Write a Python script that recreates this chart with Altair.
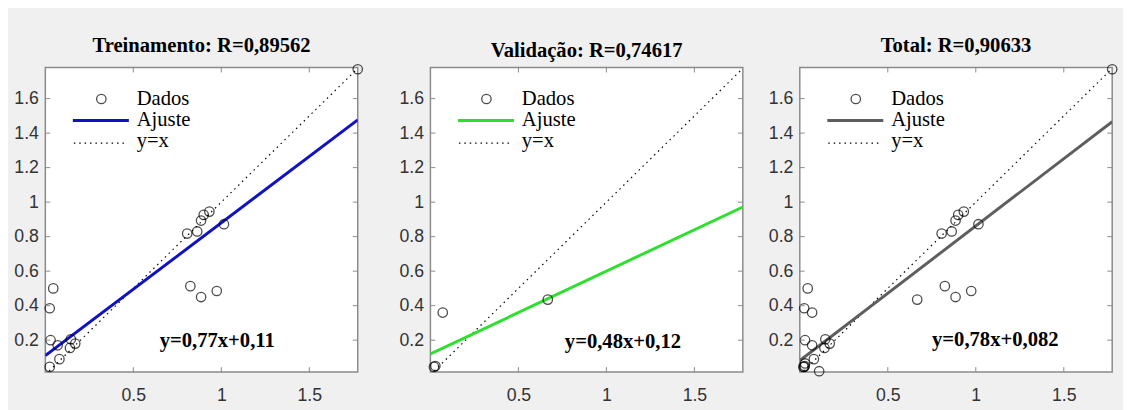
import altair as alt
import pandas as pd

# ---------------- data ----------------
train_x = [1.775, 0.025, 0.08, 0.03, 0.07, 0.14, 0.145, 0.17, 0.025, 0.045,
           0.806, 0.863, 0.885, 0.90, 0.932, 1.015, 0.824, 0.885, 0.974]
train_y = [1.77, 0.045, 0.09, 0.20, 0.17, 0.155, 0.205, 0.18, 0.385, 0.50,
           0.818, 0.83, 0.893, 0.926, 0.945, 0.872, 0.513, 0.45, 0.485]

val_x = [0.02, 0.028, 0.07, 0.667]
val_y = [0.045, 0.05, 0.36, 0.435]

test_x = [0.11, 0.03]
test_y = [0.02, 0.065]

total_x = train_x + val_x + test_x
total_y = train_y + val_y + test_y

# fit lines (end points) and identity line
line_x = [0.0, 1.775]
fit_train_y = [0.11, 1.477]
fit_val_y = [0.12, 0.972]
fit_total_y = [0.082, 1.466]
identity_y = [0.0, 1.775]

titles = ["Treinamento: R=0,89562", "Validação: R=0,74617", "Total: R=0,90633"]
equations = ["y=0,77x+0,11", "y=0,48x+0,12", "y=0,78x+0,082"]
legend_labels = ["Dados", "Ajuste", "y=x"]
fit_colors = ["#1010c4", "#2ee02e", "#5e5e5e"]

x_ticks = [0.5, 1.0, 1.5]
y_ticks = [0.2, 0.4, 0.6, 0.8, 1.0, 1.2, 1.4, 1.6]

X_DOMAIN = [0.0, 1.775]
Y_DOMAIN = [0.015, 1.78]
W, H = 318, 310

SERIF = "Liberation Serif"
SANS = "Liberation Sans"
FRAME = "#8a8a8a"


def panel(title, px, py, fit_y, color, eq, eq_pos):
    xs = alt.Scale(domain=X_DOMAIN, nice=False, zero=False)
    ys = alt.Scale(domain=Y_DOMAIN, nice=False, zero=False)
    xaxis = alt.Axis(values=x_ticks, format=".2~f", title=None, grid=False,
                     ticks=False, domain=False, labelPadding=15,
                     labelFontSize=18, labelFont=SANS, labelColor="#333333")
    yaxis = alt.Axis(values=y_ticks, format=".2~f", title=None, grid=False,
                     ticks=False, domain=False, labelPadding=7,
                     labelFontSize=18, labelFont=SANS, labelColor="#333333",
                     minExtent=34, maxExtent=34)

    def X(f):
        return alt.X(f, type="quantitative", scale=xs, axis=xaxis)

    def Y(f):
        return alt.Y(f, type="quantitative", scale=ys, axis=yaxis)

    pts = pd.DataFrame({"x": px, "y": py})
    ident = pd.DataFrame({"x": line_x, "y": identity_y})
    fit = pd.DataFrame({"x": line_x, "y": fit_y})

    identity_layer = alt.Chart(ident).mark_line(
        color="black", strokeWidth=1.2, strokeDash=[1.5, 4], clip=True
    ).encode(x=X("x"), y=Y("y"))
    fit_layer = alt.Chart(fit).mark_line(
        color=color, strokeWidth=3, clip=True
    ).encode(x=X("x"), y=Y("y"))
    pts_layer = alt.Chart(pts).mark_point(
        shape="circle", filled=False, size=92, stroke="black", strokeWidth=1.3
    ).encode(x=X("x"), y=Y("y"))

    # inward ticks on all four sides
    yt = pd.DataFrame({"v": y_ticks})
    xt = pd.DataFrame({"v": x_ticks})
    tick_l = alt.Chart(yt).mark_rule(color=FRAME, strokeWidth=1).encode(
        y=Y("v"), x=alt.value(0), x2=alt.value(5))
    tick_r = alt.Chart(yt).mark_rule(color=FRAME, strokeWidth=1).encode(
        y=Y("v"), x=alt.value(W), x2=alt.value(W - 5))
    tick_b = alt.Chart(xt).mark_rule(color=FRAME, strokeWidth=1).encode(
        x=X("v"), y=alt.value(H), y2=alt.value(H - 5))
    tick_t = alt.Chart(xt).mark_rule(color=FRAME, strokeWidth=1).encode(
        x=X("v"), y=alt.value(0), y2=alt.value(5))

    one = pd.DataFrame({"a": [0]})
    leg_pt = alt.Chart(one).mark_point(
        shape="circle", filled=False, size=92, stroke="black", strokeWidth=1.3
    ).encode(x=alt.value(57), y=alt.value(32))
    leg_fit = alt.Chart(one).mark_rule(color=color, strokeWidth=3).encode(
        x=alt.value(28), x2=alt.value(85), y=alt.value(54))
    leg_id = alt.Chart(one).mark_rule(color="black", strokeWidth=1.2,
                                      strokeDash=[1.5, 4]).encode(
        x=alt.value(29), x2=alt.value(83), y=alt.value(77))
    leg_txt = []
    for lab, yy in zip(legend_labels, [32, 54, 75]):
        leg_txt.append(alt.Chart(one).mark_text(
            align="left", baseline="middle", font=SERIF, fontSize=21,
            color="black").encode(x=alt.value(93), y=alt.value(yy),
                                  text=alt.value(lab)))

    eq_layer = alt.Chart(one).mark_text(
        align="center", baseline="middle", font=SERIF, fontSize=21,
        fontWeight="bold", color="black"
    ).encode(x=alt.value(eq_pos[0]), y=alt.value(eq_pos[1]), text=alt.value(eq))

    return alt.layer(
        identity_layer, fit_layer, pts_layer,
        tick_l, tick_r, tick_b, tick_t,
        leg_pt, leg_fit, leg_id, *leg_txt, eq_layer
    ).properties(
        width=W, height=H,
        title=alt.TitleParams(title, font=SERIF, fontSize=21, fontWeight="bold",
                              color="black", offset=6, anchor="middle"),
    )


p1 = panel(titles[0], train_x, train_y, fit_train_y, fit_colors[0], equations[0], (175, 278))
p2 = panel(titles[1], val_x, val_y, fit_val_y, fit_colors[1], equations[1], (196, 279))
p3 = panel(titles[2], total_x, total_y, fit_total_y, fit_colors[2], equations[2], (199, 277))

chart = alt.hconcat(
    alt.hconcat(p1, p2, spacing=30), p3, spacing=21
).properties(
    background="#f0f0f0",
    padding={"left": 3, "top": 23, "right": 2, "bottom": 2},
).configure_view(
    stroke=FRAME, strokeWidth=1.5, fill="white"
)

chart.save("out.html", embed_options={"renderer": "svg", "actions": False})
